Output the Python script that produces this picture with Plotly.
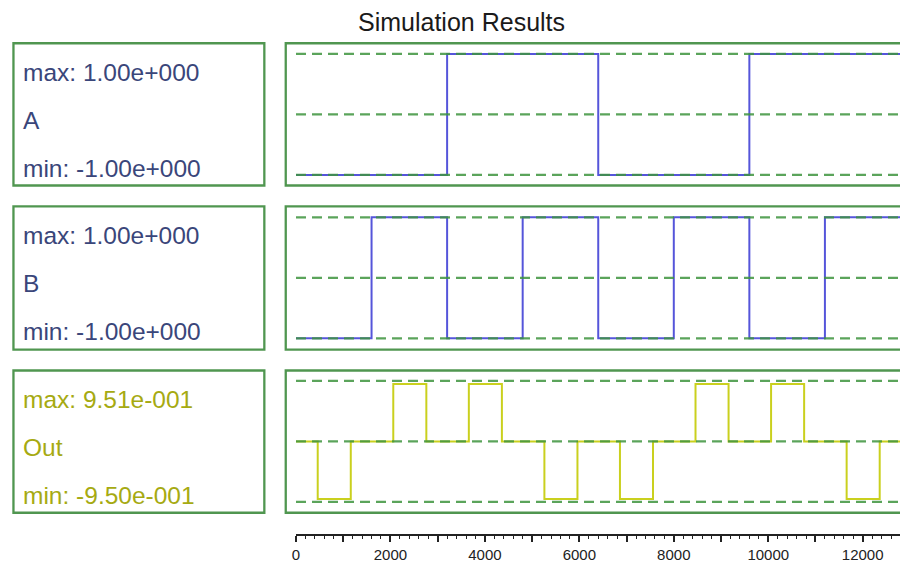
import plotly.graph_objects as go

W, H = 900, 563

# ---------------- data ----------------
title_text = "Simulation Results"
signal_names = ["A", "B", "Out"]
max_labels = ["max: 1.00e+000", "max: 1.00e+000", "max: 9.51e-001"]
min_labels = ["min: -1.00e+000", "min: -1.00e+000", "min: -9.50e-001"]

a_x = [0, 3200, 6400, 9600, 13000]
a_y = [-1, 1, -1, 1, 1]

b_x = [0, 1600, 3200, 4800, 6400, 8000, 9600, 11200, 13000]
b_y = [-1, 1, -1, 1, -1, 1, -1, 1, 1]

out_x = [0, 460, 1160, 2060, 2760, 3660, 4360, 5260, 5960, 6860, 7560,
         8460, 9160, 10060, 10760, 11660, 12360, 13000]
out_y = [0, -0.95, 0, 0.951, 0, 0.951, 0, -0.95, 0, -0.95, 0,
         0.951, 0, 0.951, 0, -0.95, 0, 0]

ref_levels = [-1, 0, 1]
ref_x = [0, 13000]

tick_vals = [0, 1000, 2000, 3000, 4000, 5000, 6000, 7000, 8000, 9000, 10000, 11000, 12000]
tick_text = ["0", "", "2000", "", "4000", "", "6000", "", "8000", "", "10000", "", "12000"]

x_range = [0, 12790]

# ---------------- styles ----------------
FRAME = "rgb(80,150,80)"
DASH = "rgba(62,148,62,0.85)"
BLUE = "rgb(85,85,218)"
YEL = "rgb(202,208,30)"
TXT_BLUE = "rgb(58,70,122)"
TXT_YEL = "rgb(166,170,18)"
FONT = "Liberation Sans, Arial, sans-serif"

signals = [(a_x, a_y, BLUE, TXT_BLUE), (b_x, b_y, BLUE, TXT_BLUE), (out_x, out_y, YEL, TXT_YEL)]

panel_tops = [43.5, 207.5, 372.5]
panel_bots = [186.5, 351.5, 515.5]
centers = [115.0, 279.3, 443.8]
half = 73.0


def px(v):
    return v / W


def py(v):
    return 1 - v / H


fig = go.Figure()
shapes = []
annotations = []

for i, (xs, ys, col, tcol) in enumerate(signals):
    n = i + 1
    xa = "x" if n == 1 else f"x{n}"
    ya = "y" if n == 1 else f"y{n}"
    fig.add_trace(go.Scatter(x=xs, y=ys, mode="lines", line=dict(color=col, width=2, shape="hv"),
                             xaxis=xa, yaxis=ya, showlegend=False, hoverinfo="skip"))
    for lv in ref_levels:
        fig.add_trace(go.Scatter(x=ref_x, y=[lv, lv], mode="lines",
                                 line=dict(color=DASH, width=2.3, dash="10px,6px"),
                                 xaxis=xa, yaxis=ya, showlegend=False, hoverinfo="skip"))
    top, bot = panel_tops[i], panel_bots[i]
    shapes.append(dict(type="rect", xref="paper", yref="paper",
                       x0=px(9.5), x1=px(261.5), y0=py(bot), y1=py(top),
                       line=dict(color=FRAME, width=2.3)))
    shapes.append(dict(type="rect", xref="paper", yref="paper",
                       x0=px(283), x1=px(910), y0=py(bot), y1=py(top),
                       line=dict(color=FRAME, width=2.3)))
    for txt, off in [(max_labels[i], 29), (signal_names[i], 77.5), (min_labels[i], 125.5)]:
        annotations.append(dict(text=txt, xref="paper", yref="paper", x=px(17), y=py(top + off),
                                xanchor="left", yanchor="middle", showarrow=False,
                                font=dict(family=FONT, size=24.5, color=tcol)))

annotations.append(dict(text=title_text, xref="paper", yref="paper", x=px(459.5), y=py(22.5),
                        xanchor="center", yanchor="middle", showarrow=False,
                        font=dict(family=FONT, size=25, color="#1a1a1a")))

layout = dict(
    width=W, height=H, margin=dict(l=0, r=0, t=0, b=0),
    paper_bgcolor="white", plot_bgcolor="white",
    shapes=shapes, annotations=annotations, showlegend=False,
)

for i in range(3):
    n = i + 1
    xk = "xaxis" if n == 1 else f"xaxis{n}"
    yk = "yaxis" if n == 1 else f"yaxis{n}"
    ax = dict(domain=[px(293.3), 1], range=x_range, showgrid=False, zeroline=False,
              fixedrange=True)
    if n == 3:
        ax.update(anchor="free", position=py(537.7), showline=True, linecolor="#222", linewidth=1.5,
                  ticks="outside", ticklen=6, tickwidth=1.5, tickcolor="#222",
                  tickmode="array", tickvals=tick_vals, ticktext=tick_text,
                  tickfont=dict(family=FONT, size=15, color="#222"),
                  minor=dict(tick0=0, dtick=200, ticks="outside", ticklen=3, tickwidth=1, tickcolor="#222"))
    else:
        ax.update(showticklabels=False, showline=False, ticks="", anchor="y" if n == 1 else f"y{n}")
    layout[xk] = ax
    layout[yk] = dict(domain=[py(centers[i] + half), py(centers[i] - half)], range=[-1.2, 1.2],
                      showgrid=False, zeroline=False, showticklabels=False, showline=False,
                      anchor="x" if n == 1 else f"x{n}", fixedrange=True)

fig.update_layout(**layout)
fig.write_html("out.html", config={"displayModeBar": False},
               post_script="document.body.style.margin='0px';document.body.style.overflow='hidden';")
